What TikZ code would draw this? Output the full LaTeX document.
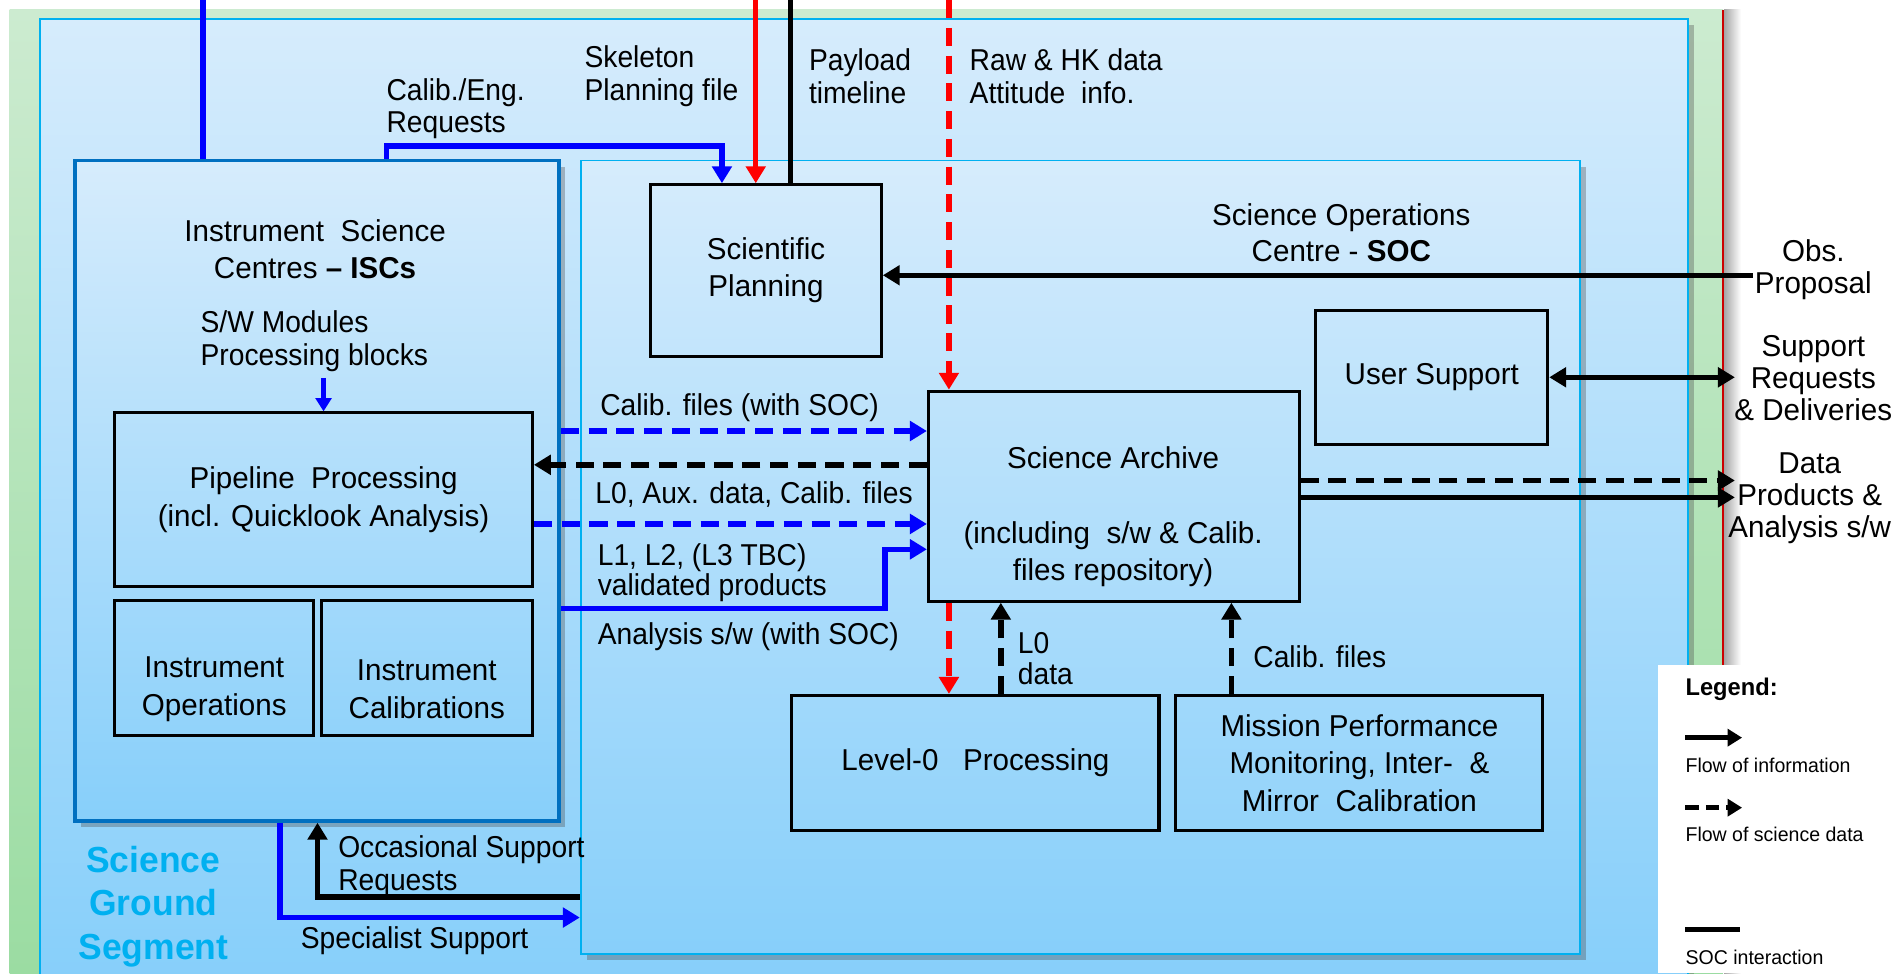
\documentclass[tikz,border=0pt]{standalone}
\usepackage{fontspec}
\setmainfont[FakeStretch=0.98]{Liberation Sans}
\newfontfamily\labelfont[FakeStretch=0.935]{Liberation Sans}
\usetikzlibrary{arrows.meta,shadows,calc}
\definecolor{bgTop}{RGB}{204,235,208}
\definecolor{bgBot}{RGB}{155,220,162}
\definecolor{skyTop}{RGB}{214,236,252}
\definecolor{skyBot}{RGB}{135,207,250}
\definecolor{cyanB}{RGB}{0,176,240}
\definecolor{iscB}{RGB}{0,112,192}
\definecolor{pureBlue}{RGB}{0,0,255}
\definecolor{pureRed}{RGB}{255,0,0}
\tikzset{
  panel/.style={top color=skyTop, bottom color=skyBot, draw=cyanB, line width=1.5pt, inner sep=0pt,
    drop shadow={shadow xshift=5pt, shadow yshift=-5pt, opacity=0.35, fill=black!70}},
  box/.style={draw=black, line width=2.5pt, inner sep=0pt, align=center,
    font=\fontsize{25}{31}\selectfont},
  txt/.style={inner sep=0pt, align=center, font=\fontsize{25}{31}\selectfont},
  ltxt/.style={inner sep=0pt, align=left, anchor=west, font=\labelfont\fontsize{25}{27}\selectfont},
  legtxt/.style={inner sep=0pt, align=left, anchor=west, font=\fontsize{16.5}{20}\selectfont},
  tipA/.style={-{Triangle[length=14pt,width=16pt]}},
  bline/.style={draw=pureBlue, line width=4.5pt},
  bflow/.style={bline, tipA},
  bdflow/.style={bline, tipA, dash pattern=on 15pt off 8pt},
  rflow/.style={draw=pureRed, line width=4.5pt, tipA},
  rdflow/.style={draw=pureRed, line width=4.5pt, tipA, dash pattern=on 15pt off 8pt},
  kline/.style={draw=black, line width=4.5pt},
  kflow/.style={kline, tipA},
  kdflow/.style={kline, tipA, dash pattern=on 15pt off 8pt},
}
\begin{document}
\begin{tikzpicture}[x=1pt,y=-1pt]
\useasboundingbox (0,0) rectangle (1568,806);
% background
\shade[top color=bgTop, bottom color=bgBot] (8,8) rectangle (1427,806);
\shade[left color=black!35, right color=white] (1428,8) rectangle (1442,806);
\draw[pureRed!80!black, line width=1.3pt] (1427,8) -- (1427,806);

% panels
\node[panel, minimum width=1365pt, minimum height=794pt] (sgs) at (715.5,413) {};
\node[panel, draw=iscB, line width=3pt, minimum width=401pt, minimum height=547pt] (isc) at (262.5,406.5) {};
\node[panel, minimum width=828pt, minimum height=657pt] (soc) at (895,461.5) {};

% boxes
\node[box, minimum width=191pt, minimum height=142pt] (sp) at (634.5,224) {Scientific\\Planning};
\node[box, minimum width=192pt, minimum height=111pt] (us) at (1186,312.5) {User Support};
\node[box, minimum width=307pt, minimum height=174pt] (sa) at (922.5,411) {};
\node[box, minimum width=304pt, minimum height=112pt] (l0) at (808,632) {Level-0\ \ \ Processing};
\node[box, minimum width=304pt, minimum height=112pt] (mp) at (1126,632) {Mission Performance\\Monitoring, Inter-\ \ \&\\Mirror\ \ Calibration};
\node[box, minimum width=346pt, minimum height=144pt] (pp) at (268,414) {Pipeline\ \ Processing\\(incl. Quicklook Analysis)};
\node[box, minimum width=165pt, minimum height=112pt] (io) at (177.5,553) {};
\node[box, minimum width=175pt, minimum height=112pt] (ic) at (353.5,553) {};

% texts in boxes / panels
\node[txt] (saT) at (922,428) {Science Archive\\\mbox{}\\(including\ \ s/w \& Calib.\\files repository)};
\node[txt] (ioT) at (177.5,571) {Instrument\\Operations};
\node[txt] (icT) at (353.5,571) {Instrument\\Calibrations};
\node[txt] (iscT) at (261,206.5) {Instrument\ \ Science\\Centres \textbf{– ISCs}};
\node[txt, font=\fontsize{25}{30}\selectfont] (socT) at (1111,193) {Science Operations\\Centre - \textbf{SOC}};
\node[txt, text=cyanB, font=\fontsize{30}{36}\selectfont\bfseries] (sgsT) at (127,751) {Science\\Ground\\Segment};
\node[ltxt] (swT) at (166,282.5) {S/W Modules\\Processing blocks};

% labels
\node[ltxt] (skT) at (484,63) {Skeleton\\Planning file};
\node[ltxt] (plT) at (670,63) {Payload\\timeline};
\node[ltxt] (rawT) at (803,63) {Raw \& HK data\\Attitude\ \ info.};
\node[ltxt] (ceT) at (320,90) {Calib./Eng.\\Requests};
\node[txt, font=\fontsize{25}{26.5}\selectfont] (obsT) at (1502,223) {Obs.\\Proposal};
\node[txt, font=\fontsize{25}{26.5}\selectfont] (supT) at (1502,313.5) {Support\\Requests\\\& Deliveries};
\node[txt, font=\fontsize{25}{26.5}\selectfont] (dpT) at (1499,412.5) {Data\\Products \&\\Analysis s/w};
\node[ltxt] (cfT) at (497,338) {Calib. files (with SOC)};
\node[ltxt] (l0aT) at (493,410) {L0, Aux. data, Calib. files};
\node[ltxt, font=\labelfont\fontsize{25}{25}\selectfont] (l1T) at (495,474.5) {L1, L2, (L3 TBC)\\validated products};
\node[ltxt] (anT) at (495,527) {Analysis s/w (with SOC)};
\node[ltxt, font=\labelfont\fontsize{25}{25}\selectfont] (l0dT) at (843,545.5) {L0\\data};
\node[ltxt] (cf2T) at (1038,544) {Calib. files};
\node[ltxt] (osT) at (280,717.5) {Occasional Support\\Requests};
\node[ltxt] (spT) at (249,779) {Specialist Support};

% helper coordinates
\coordinate (tb) at (168,0);
\coordinate (cer) at (320,121);
\coordinate (x598) at (598,0);
\coordinate (tr) at (626,0);
\coordinate (tk) at (655,0);
\coordinate (trd) at (786,0);
\coordinate (obs) at (1452,228);
\coordinate (supE) at (1437,313);
\coordinate (dpa) at (1437,398);
\coordinate (dpb) at (1437,412);
\coordinate (y357) at (0,357);
\coordinate (y385) at (0,385);
\coordinate (y434) at (0,434);
\coordinate (y455) at (0,455);
\coordinate (asw) at (733,504);
\coordinate (x829) at (829,0);
\coordinate (x1020) at (1020,0);
\coordinate (ss) at (232,760);
\coordinate (os) at (263,743);
\coordinate (swm) at (268,313);

% connectors
\draw[bline] (tb) -- (tb |- isc.north);
\draw[bflow] (isc.north -| cer) -- (cer) -| (sp.north -| x598);
\draw[rflow] (tr) -- (tr |- sp.north);
\draw[kline] (tk) -- (tk |- sp.north);
\draw[rdflow] (trd) -- (trd |- sa.north);
\draw[kflow] (obs) -- (obs -| sp.east);
\draw[kline, {Triangle[length=14pt,width=16pt]}-{Triangle[length=14pt,width=16pt]}] (us.east) -- (us.east -| supE);
\draw[kdflow] (dpa -| sa.east) -- (dpa);
\draw[kflow, line width=3.5pt] (dpb -| sa.east) -- (dpb);
\draw[bdflow] (isc.east |- y357) -- (sa.west |- y357);
\draw[kdflow] (sa.west |- y385) -- (pp.east |- y385);
\draw[bdflow] (pp.east |- y434) -- (sa.west |- y434);
\draw[bflow] (isc.east |- asw) -- (asw) |- (sa.west |- y455);
\draw[rdflow] (sa.south -| trd) -- (l0.north -| trd);
\draw[kdflow] (l0.north -| x829) -- (sa.south -| x829);
\draw[kdflow] (mp.north -| x1020) -- (sa.south -| x1020);
\draw[bflow] (isc.south -| ss) -- (ss) -- (ss -| soc.west);
\draw[kflow] (soc.west |- os) -- (os) -- (os |- isc.south);
\draw[bflow, line width=3.5pt, -{Triangle[length=11pt,width=13pt]}] (swm) -- (swm |- pp.north);

% legend
\fill[white] (1373,551) rectangle (1568,806);
\node[legtxt, font=\fontsize{20}{24}\selectfont] (lgT) at (1396,571) {\textbf{Legend:}};
\coordinate (la1) at (1396,611);
\coordinate (la2) at (1443,611);
\coordinate (lb1) at (1396,669);
\coordinate (lb2) at (1443,669);
\coordinate (lc1) at (1396,770);
\coordinate (lc2) at (1441,770);
\draw[kline, line width=4pt, -{Triangle[length=12pt,width=14pt]}] (la1) -- (la2);
\draw[kline, line width=4pt, dash pattern=on 11pt off 6pt, -{Triangle[length=12pt,width=14pt]}] (lb1) -- (lb2);
\draw[kline, line width=4pt] (lc1) -- (lc2);
\node[legtxt] (l1t) at (1396,634) {Flow of information};
\node[legtxt] (l2t) at (1396,691) {Flow of science data};
\node[legtxt] (l3t) at (1396,793) {SOC interaction};
\end{tikzpicture}
\end{document}
